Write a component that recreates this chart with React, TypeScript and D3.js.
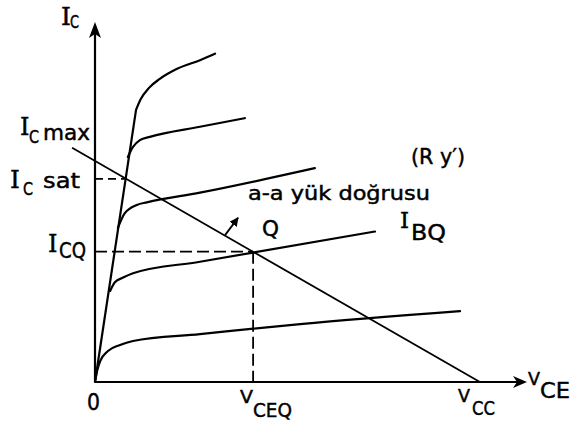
import React from "react";
import * as d3 from "d3";

const W = 577;
const H = 427;

// Characteristic curves: [VCE, IC] in relative units (0..100)
const curveIB1: [number, number][] = [[0, 0], [0.5, 3.1], [1.2, 5.8], [3.0, 8.6], [5.8, 10.3], [8.8, 11.4], [24.3, 13.3], [47.5, 16.1], [84.5, 19.7]];
const curveIBQ: [number, number][] = [[3.5, 25.3], [4.6, 27.7], [6.5, 29.0], [8.8, 30.2], [24.3, 33.4], [64.8, 41.8]];
const curveIB3: [number, number][] = [[5.3, 42.8], [6.9, 46.9], [9.7, 49.2], [12.0, 49.9], [24.3, 52.6], [50.9, 59.4]];
const curveIB4: [number, number][] = [[7.6, 62.5], [8.8, 65.3], [10.4, 67.2], [12.7, 68.1], [24.3, 70.9], [34.7, 73.3]];
const curveIB5: [number, number][] = [[9.5, 75.6], [10.6, 78.6], [12.5, 81.7], [15.0, 84.2], [19.0, 87.0], [24.3, 89.4], [27.8, 91.2]];
const curves = [curveIB1, curveIBQ, curveIB3, curveIB4, curveIB5];

// Saturation line
const satLine: [number, number][] = [[0, 0], [9.5, 75.6]];

// Load line (a-a yük doğrusu)
const IC_MAX = 61.4;
const VCC = 89.1;
const LOAD_START = -5.3;
const VCEQ = 36.6;
const ICQ = 36.2;
const VCE_SAT = 6.9;
const IC_SAT = 56.4;
const slopeArrow: [number, number][] = [[30.1, 40.8], [33.1, 45.6]];

const FONT = "'DejaVu Sans', sans-serif";
const SERIF = "'DejaVu Serif', serif";

function T({ x, y, size, children, len, font }: { x: number; y: number; size: number; children: React.ReactNode; len?: number; font?: string }) {
  return (
    <text x={x} y={y} fontSize={size} fontFamily={font || FONT} fill="#000" stroke="#000" strokeWidth={0.45}
      {...(len ? { textLength: len, lengthAdjust: "spacingAndGlyphs" } : {})}>
      {children}
    </text>
  );
}

export default function App() {
  const x = d3.scaleLinear().domain([0, 100]).range([95, 527]);
  const y = d3.scaleLinear().domain([0, 100]).range([382, 22]);
  const line = d3.line<[number, number]>().x(d => x(d[0])).y(d => y(d[1])).curve(d3.curveMonotoneX);
  const straight = d3.line<[number, number]>().x(d => x(d[0])).y(d => y(d[1]));
  const loadY = (v: number) => IC_MAX * (1 - v / VCC);
  const loadLine: [number, number][] = [[LOAD_START, loadY(LOAD_START)], [VCC, 0]];

  const x0 = x(0), y0 = y(0), xEnd = x(100), yEnd = y(100);
  const sw = 2.2;

  return (
    <svg width={W} height={H} style={{ position: "absolute", left: 0, top: 0, background: "#fff" }}>
      <defs>
        <marker id="ah" viewBox="0 0 10 10" refX="9" refY="5" markerWidth="5" markerHeight="5" orient="auto">
          <path d="M0,0 L10,5 L0,10 z" fill="#000" />
        </marker>
      </defs>
      {/* axes */}
      <line x1={x0} y1={y0} x2={x0} y2={yEnd + 8} stroke="#000" strokeWidth={sw} />
      <path d={`M${x0},${yEnd} L${x0 - 6},${yEnd + 16} L${x0},${yEnd + 12} L${x0 + 6},${yEnd + 16} Z`} fill="#000" />
      <line x1={x0} y1={y0} x2={xEnd - 8} y2={y0} stroke="#000" strokeWidth={sw} />
      <path d={`M${xEnd},${y0} L${xEnd - 14},${y0 - 6} L${xEnd - 10},${y0} L${xEnd - 14},${y0 + 6} Z`} fill="#000" />

      {/* dashed guides */}
      <line x1={x0} y1={y(ICQ)} x2={x(VCEQ)} y2={y(ICQ)} stroke="#000" strokeWidth={1.8} strokeDasharray="12,5" />
      <line x1={x(VCEQ)} y1={y(ICQ)} x2={x(VCEQ)} y2={y0} stroke="#000" strokeWidth={1.8} strokeDasharray="12,5" />
      <line x1={x0} y1={y(IC_SAT)} x2={x(VCE_SAT)} y2={y(IC_SAT)} stroke="#000" strokeWidth={1.8} strokeDasharray="8,5" />

      {/* saturation line */}
      <path d={straight(satLine) || ""} fill="none" stroke="#000" strokeWidth={sw} />
      {/* characteristic curves */}
      {curves.map((c, i) => (
        <path key={i} d={line(c) || ""} fill="none" stroke="#000" strokeWidth={sw} strokeLinecap="round" />
      ))}
      {/* load line */}
      <path d={straight(loadLine) || ""} fill="none" stroke="#000" strokeWidth={1.8} />
      {/* slope arrow */}
      <path d={straight(slopeArrow) || ""} fill="none" stroke="#000" strokeWidth={1.8} markerEnd="url(#ah)" />

      {/* labels */}
      <T x={61} y={25} size={25} font={SERIF}>I</T>
      <T x={70} y={28} size={18} len={9}>C</T>

      <T x={20} y={135} size={24} font={SERIF}>I</T>
      <T x={29} y={143} size={17} len={10}>C</T>
      <T x={43} y={140} size={21} len={47}>max</T>

      <T x={10} y={188} size={25} font={SERIF}>I</T>
      <T x={23} y={195} size={18} len={10}>C</T>
      <T x={43} y={188} size={21} len={37}>sat</T>

      <T x={48} y={252} size={24} font={SERIF}>I</T>
      <T x={59} y={258} size={21} len={27}>CQ</T>

      <T x={262} y={236} size={22} len={17}>Q</T>
      <T x={248} y={200} size={19} len={182}>a-a yük doğrusu</T>
      <T x={411} y={164} size={22} len={54}>(R y′)</T>

      <T x={400} y={228} size={23} font={SERIF}>I</T>
      <T x={411} y={240} size={21} len={35}>BQ</T>

      <T x={87} y={410} size={23} len={13}>0</T>

      <T x={240} y={403} size={17} len={13}>V</T>
      <T x={253} y={417} size={20} len={39}>CEQ</T>

      <T x={458} y={402} size={17} len={12}>V</T>
      <T x={472} y={415} size={20} len={23}>CC</T>

      <T x={528} y={385} size={17} len={12}>V</T>
      <T x={540} y={398} size={21} len={30}>CE</T>
    </svg>
  );
}
